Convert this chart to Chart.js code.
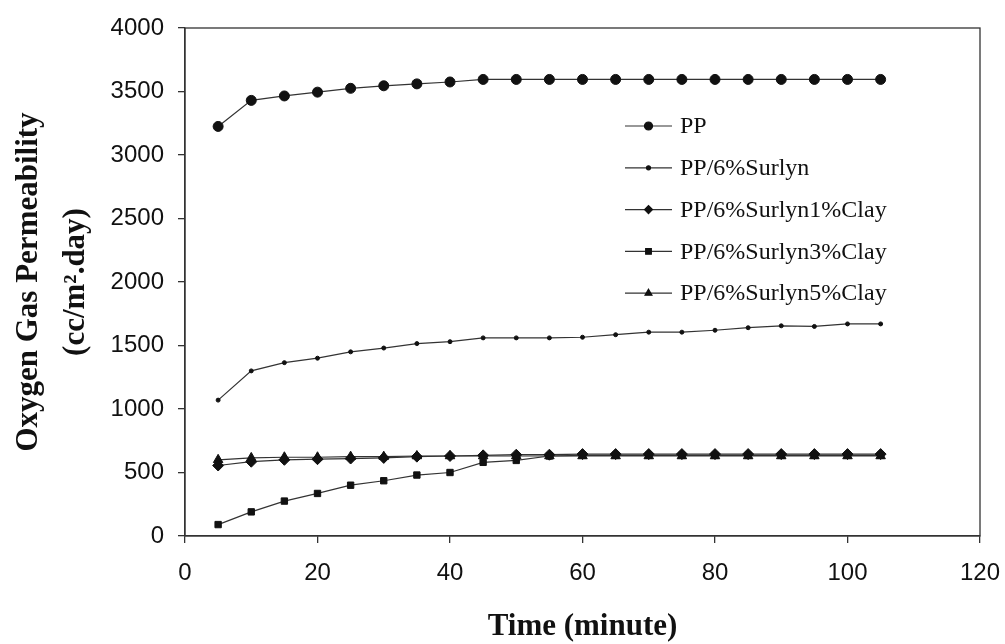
<!DOCTYPE html>
<html>
<head>
<meta charset="utf-8">
<script src="https://cdn.jsdelivr.net/npm/chart.js@4/dist/chart.umd.min.js"></script>
<style>
  html, body { margin: 0; padding: 0; background: #fff; }
  #wrap { width: 1005px; height: 644px; }
</style>
</head>
<body>
<div id="wrap"><canvas id="o2Chart" width="1005" height="644"></canvas></div>
<script>
// ─── DATA ─────────────────────────────────────────────────────────
// Oxygen permeability (cc/m².day) sampled every 5 minutes
const timeMin = [5, 10, 15, 20, 25, 30, 35, 40, 45, 50, 55, 60, 65, 70, 75, 80, 85, 90, 95, 100, 105];

const ppVals     = [3225, 3430, 3465, 3495, 3525, 3545, 3560, 3575, 3595, 3595, 3595, 3595, 3595, 3595, 3595, 3595, 3595, 3595, 3595, 3595, 3595];
const surlynVals = [1070, 1300, 1365, 1400, 1450, 1480, 1515, 1530, 1560, 1560, 1560, 1565, 1585, 1605, 1605, 1620, 1640, 1655, 1650, 1670, 1670];
const clay1Vals  = [555, 585, 600, 605, 610, 615, 625, 630, 635, 640, 640, 645, 645, 645, 645, 645, 645, 645, 645, 645, 645];
const clay3Vals  = [90, 190, 275, 335, 400, 435, 480, 500, 580, 595, 630, 635, 635, 635, 635, 635, 635, 635, 635, 635, 635];
const clay5Vals  = [600, 615, 620, 620, 625, 625, 630, 630, 630, 630, 630, 630, 630, 630, 630, 630, 630, 630, 630, 630, 630];

const seriesNames = ['PP', 'PP/6%Surlyn', 'PP/6%Surlyn1%Clay', 'PP/6%Surlyn3%Clay', 'PP/6%Surlyn5%Clay'];
const seriesVals  = [ppVals, surlynVals, clay1Vals, clay3Vals, clay5Vals];
const markers     = ['circle', 'circle', 'rectRot', 'rect', 'triangle'];
const markerSizes = [5, 2, 5.5, 4.5, 5.5];

const xTicks = { min: 0, max: 120, step: 20 };
const yTicks = { min: 0, max: 4000, step: 500 };

const INK  = '#111';
const LINE = '#333';

// ─── PLOT FRAME ───────────────────────────────────────────────────
// Closes the box on the top and right of the plot area
const frameBox = {
  id: 'frameBox',
  afterDraw(chart) {
    const { ctx, chartArea: a } = chart;
    ctx.save();
    ctx.strokeStyle = LINE;
    ctx.lineWidth = 1.3;
    ctx.strokeRect(a.left, a.top, a.right - a.left, a.bottom - a.top);
    ctx.restore();
  },
};

// ─── LEGEND INSIDE PLOT ───────────────────────────────────────────
// Line-with-marker swatches, stacked down the right half of the plot
const insideLegend = {
  id: 'insideLegend',
  afterDraw(chart) {
    const { ctx } = chart;
    const x0 = 625, x1 = 672, textX = 680, top = 126, gap = 41.8;
    ctx.save();
    chart.data.datasets.forEach((ds, i) => {
      const y = top + i * gap;
      ctx.strokeStyle = LINE;
      ctx.lineWidth = 1.2;
      ctx.beginPath();
      ctx.moveTo(x0, y);
      ctx.lineTo(x1, y);
      ctx.stroke();
      ctx.fillStyle = INK;
      ctx.strokeStyle = INK;
      Chart.helpers.drawPoint(ctx, {
        pointStyle: ds.pointStyle,
        radius: Math.min(ds.pointRadius, 4),
        borderWidth: 1,
        rotation: 0,
      }, (x0 + x1) / 2, y);
      ctx.fillStyle = INK;
      ctx.font = '24px "Liberation Serif", "Times New Roman", serif';
      ctx.textBaseline = 'middle';
      ctx.fillText(ds.label, textX, y + 1);
    });
    ctx.restore();
  },
};

// ─── CHART ────────────────────────────────────────────────────────
const datasets = seriesNames.map((name, i) => ({
  label: name,
  data: timeMin.map((t, k) => ({ x: t, y: seriesVals[i][k] })),
  borderColor: LINE,
  borderWidth: 1.2,
  pointStyle: markers[i],
  pointRadius: markerSizes[i],
  pointBackgroundColor: INK,
  pointBorderColor: INK,
  pointBorderWidth: 1,
  tension: 0,
  fill: false,
}));

const tickFont = { family: '"Liberation Sans", Arial, sans-serif', size: 24 };
const titleFont = { family: '"Liberation Serif", "Times New Roman", serif', size: 31, weight: 'bold' };

new Chart(document.getElementById('o2Chart'), {
  type: 'line',
  data: { datasets },
  options: {
    responsive: false,
    animation: false,
    layout: { padding: { top: 28, right: 25, left: 6, bottom: 0 } },
    plugins: {
      legend: { display: false },
      tooltip: { enabled: false },
    },
    scales: {
      x: {
        type: 'linear',
        min: xTicks.min,
        max: xTicks.max,
        afterFit: s => { s.height = 108; s.paddingLeft = 0; s.paddingRight = 0; },
        ticks: { stepSize: xTicks.step, color: INK, font: tickFont, padding: 16, maxRotation: 0 },
        grid: { drawOnChartArea: false, drawTicks: true, tickLength: 7, color: LINE, lineWidth: 1.3 },
        border: { display: true, color: LINE, width: 1.3 },
        title: {
          display: true,
          text: 'Time (minute)',
          color: INK,
          font: titleFont,
          padding: { top: 0, bottom: -2 },
        },
      },
      y: {
        min: yTicks.min,
        max: yTicks.max,
        afterFit: s => { s.width = 179; s.paddingTop = 0; s.paddingBottom = 0; },
        ticks: {
          stepSize: yTicks.step,
          color: INK,
          font: tickFont,
          padding: 14,
          callback: v => String(v),
        },
        grid: { drawOnChartArea: false, drawTicks: true, tickLength: 7, color: LINE, lineWidth: 1.3 },
        border: { display: true, color: LINE, width: 1.3 },
        title: {
          display: true,
          text: ['Oxygen Gas Permeability', '(cc/m².day)'],
          color: INK,
          font: { ...titleFont, lineHeight: 1.5 },
          padding: { top: 0, bottom: 0 },
        },
      },
    },
  },
  plugins: [frameBox, insideLegend],
});
</script>
</body>
</html>
